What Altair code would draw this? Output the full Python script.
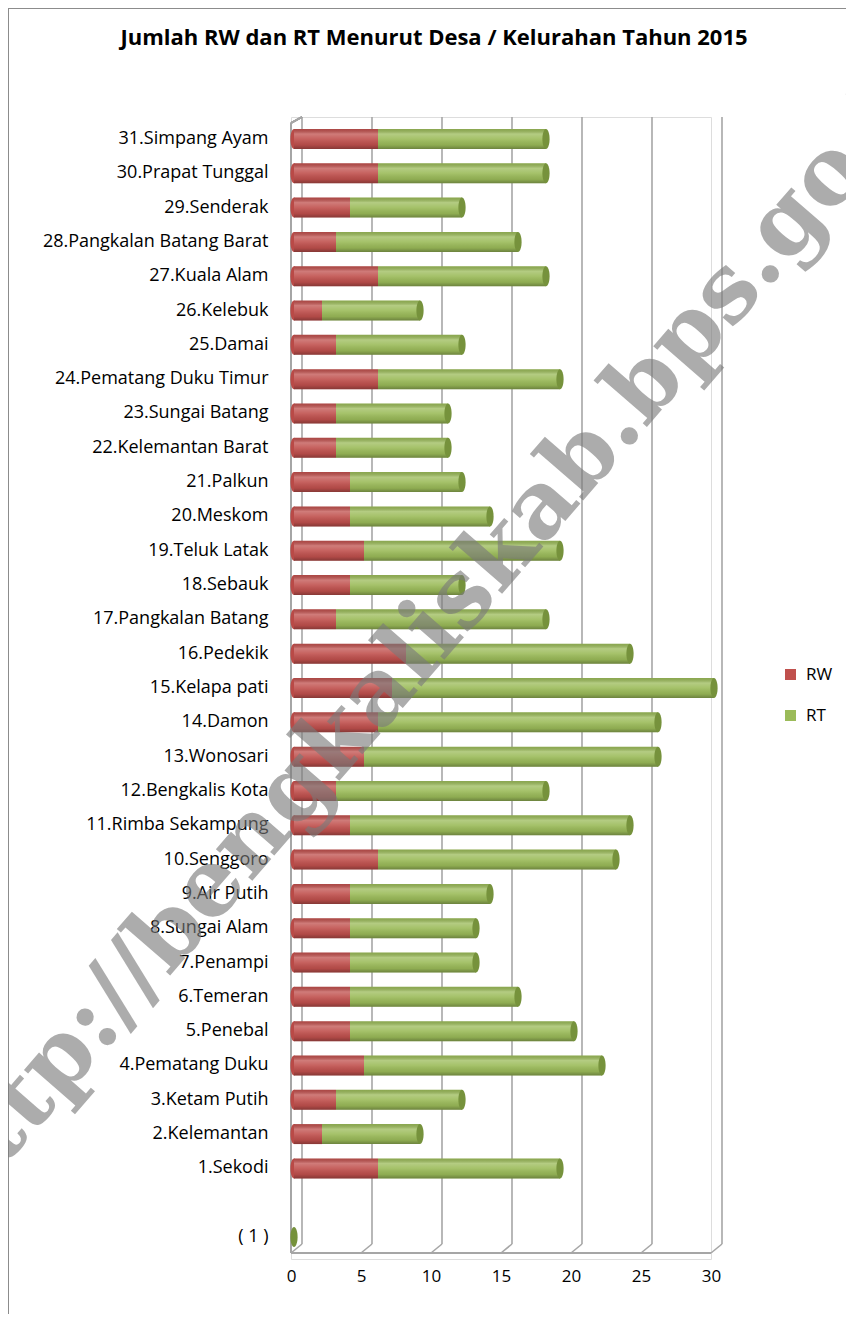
import altair as alt
import pandas as pd

# ---- data ----
desa = ["1.Sekodi", "2.Kelemantan", "3.Ketam Putih", "4.Pematang Duku", "5.Penebal",
        "6.Temeran", "7.Penampi", "8.Sungai Alam", "9.Air Putih", "10.Senggoro",
        "11.Rimba Sekampung", "12.Bengkalis Kota", "13.Wonosari", "14.Damon",
        "15.Kelapa pati", "16.Pedekik", "17.Pangkalan Batang", "18.Sebauk",
        "19.Teluk Latak", "20.Meskom", "21.Palkun", "22.Kelemantan Barat",
        "23.Sungai Batang", "24.Pematang Duku Timur", "25.Damai", "26.Kelebuk",
        "27.Kuala Alam", "28.Pangkalan Batang Barat", "29.Senderak",
        "30.Prapat Tunggal", "31.Simpang Ayam", "( 1 )"]
rw = [6, 2, 3, 5, 4, 4, 4, 4, 4, 6, 4, 3, 5, 6, 7, 8, 3, 4, 5, 4, 4, 3, 3, 6, 3, 2, 6, 3, 4, 6, 6, 0]
rt = [13, 7, 9, 17, 16, 12, 9, 9, 10, 17, 20, 15, 21, 20, 23, 16, 15, 8, 14, 10, 8, 8, 8, 13, 9, 7, 12, 13, 8, 12, 12, 0]
series = ["RW", "RT"]
series_colors = ["#C0504D", "#9BBB59"]
x_ticks = [0, 5, 10, 15, 20, 25, 30]
y_order = list(reversed(desa[:-1])) + [" ", "( 1 )"]
title_text = "Jumlah RW dan RT Menurut Desa / Kelurahan Tahun 2015"
watermark = "http://bengkaliskab.bps.go.id"

df = pd.DataFrame({"desa": desa, "RW": rw, "RT": rt})
tick_df = pd.DataFrame({"t": x_ticks})

FONT = "Open Sans"
GRID = "#A6A6A6"

xscale = alt.Scale(domain=[0, 30], nice=False, zero=True)
xaxis = alt.Axis(values=x_ticks, title=None, grid=False, domain=False, ticks=False, tickSize=0,
                 labelFlush=False, labelFont=FONT, labelFontSize=17, labelColor="#000",
                 labelPadding=9)
yscale = alt.Scale(domain=y_order, paddingInner=0.4, paddingOuter=0.34)
yaxis = alt.Axis(title=None, grid=False, domain=False, ticks=False, tickSize=0,
                 labelFont=FONT, labelFontSize=18, labelColor="#000", labelPadding=23,
                 labelLimit=400)

def X(field=None, **kw):
    if field is None:
        return alt.X(scale=xscale, axis=xaxis, **kw)
    return alt.X(field, scale=xscale, axis=xaxis, **kw)

Y = alt.Y("desa:N", scale=yscale, axis=yaxis)

# ---- 3D-like frame ----
grid = alt.Chart(tick_df).mark_rule(xOffset=11, color=GRID, strokeWidth=1.6).encode(
    x=X("t:Q"), y=alt.value(0), y2=alt.value(1127))
diag = alt.Chart(tick_df).mark_rule(x2Offset=11, color=GRID, strokeWidth=1.6).encode(
    x=X("t:Q"), x2="t:Q", y=alt.value(1136), y2=alt.value(1127))
front_bottom = alt.Chart(tick_df).mark_rule(color=GRID, strokeWidth=1.6).encode(
    x=X(datum=0, type="quantitative"), x2=alt.X2(datum=30), y=alt.value(1136))
front_left = alt.Chart(tick_df).mark_rule(color=GRID, strokeWidth=1.6).encode(
    x=X(datum=0, type="quantitative"), y=alt.value(6), y2=alt.value(1136))
top_diag = alt.Chart(tick_df).mark_rule(x2Offset=11, color=GRID, strokeWidth=1.6).encode(
    x=X(datum=0, type="quantitative"), x2=alt.X2(datum=0), y=alt.value(6), y2=alt.value(0))

# outer chart border (left and top edges, as in the reference)
border_left = alt.Chart(tick_df).mark_rule(color="#8C8C8C", strokeWidth=1).encode(
    x=alt.value(-282.5), y=alt.value(-108.5), y2=alt.value(1200))
border_top = alt.Chart(tick_df).mark_rule(color="#8C8C8C", strokeWidth=1).encode(
    x=alt.value(-282.5), x2=alt.value(560), y=alt.value(-108.5))

ELLIPSE = "M0,-1 A0.36,1 0 1,1 0,1 A0.36,1 0 1,1 0,-1 Z"
BX = 3  # bars sit slightly in front of the axis origin

base = alt.Chart(df).transform_calculate(total="datum.RW + datum.RT")

left_cap = base.transform_filter("datum.RW > 0").mark_point(
    shape=ELLIPSE, size=400, filled=True, opacity=1, color="#B94A47", strokeWidth=0, xOffset=BX
).encode(x=X(datum=0, type="quantitative"), y=Y)

bars = base.transform_fold(series, as_=["series", "value"]).transform_calculate(
    ord="datum.series == 'RW' ? 0 : 1"
).mark_bar(size=20, xOffset=BX).encode(
    x=X("value:Q", stack="zero"),
    y=Y,
    color=alt.Color("series:N",
                    scale=alt.Scale(domain=series, range=series_colors),
                    legend=alt.Legend(title=None, orient="none", legendX=491, legendY=549,
                                      symbolType="square", symbolSize=121,
                                      symbolStrokeWidth=0, labelFont=FONT,
                                      labelFontSize=17, labelColor="#000",
                                      rowPadding=23, padding=0, labelOffset=7)),
    order=alt.Order("ord:Q"),
)

shade = alt.Gradient(
    gradient="linear", x1=0, x2=0, y1=0, y2=1,
    stops=[alt.GradientStop(color="rgba(0,0,0,0.10)", offset=0),
           alt.GradientStop(color="rgba(255,255,255,0.25)", offset=0.25),
           alt.GradientStop(color="rgba(255,255,255,0.10)", offset=0.5),
           alt.GradientStop(color="rgba(0,0,0,0.08)", offset=0.8),
           alt.GradientStop(color="rgba(0,0,0,0.30)", offset=1)])
overlay = base.mark_bar(size=20, color=shade, xOffset=BX).encode(x=X("total:Q"), y=Y)

right_cap = base.mark_point(
    shape=ELLIPSE, size=400, filled=True, opacity=1, color="#76923C", strokeWidth=0, xOffset=BX
).encode(x=X("total:Q"), y=Y)

wm = alt.Chart(pd.DataFrame({"w": [watermark]})).mark_text(
    angle=311, fontSize=93, font="DejaVu Serif", fontWeight="bold",
    color="#7A7A7A", opacity=0.62, align="center", baseline="middle"
).encode(text="w:N", x=alt.value(145), y=alt.value(510))

title = alt.Chart(pd.DataFrame({"title": [title_text]})).mark_text(
    font=FONT, fontSize=22, fontWeight="bold", color="#000", align="center", baseline="middle"
).encode(text="title:N", x=alt.value(143), y=alt.value(-79))

chart = alt.layer(
    border_left, border_top, grid, diag, front_bottom, front_left, top_diag,
    left_cap, bars, overlay, right_cap, wm, title
).properties(
    width=420, height=1142,
    padding={"left": 283, "top": 109, "right": 135, "bottom": 55},
    autosize=alt.AutoSizeParams(type="none"),
).configure_view(stroke=None).configure(background="white")

chart.save("out.html", embed_options={"renderer": "svg", "actions": False})
